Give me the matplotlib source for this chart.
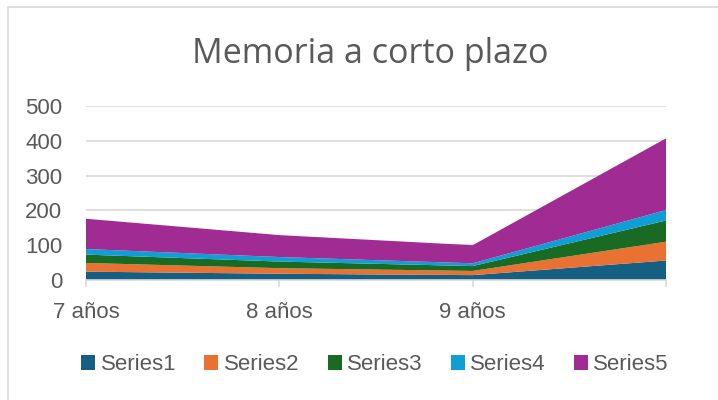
import matplotlib
matplotlib.use("Agg")
import matplotlib.pyplot as plt
from matplotlib.patches import Rectangle, Patch

# datos
categorias = ["7 años", "8 años", "9 años", ""]
series1 = [24, 18, 14, 56]
series2 = [25, 16, 12, 54]
series3 = [24, 19, 14, 61]
series4 = [16, 13, 8, 30]
series5 = [87, 63, 52, 206]
nombres = ["Series1", "Series2", "Series3", "Series4", "Series5"]
colores = ["#156082", "#E97132", "#196B24", "#0F9ED5", "#A02B93"]

W, H = 718, 400
fig = plt.figure(figsize=(W / 100, H / 100), dpi=100)

# marco del gráfico (sale por la derecha y por abajo)
fig.patches.append(Rectangle((8 / W, -0.1), 1.2, (H - 7) / H + 0.1,
                             transform=fig.transFigure, fill=False,
                             edgecolor="#D9D9D9", linewidth=1.2))

# zona de trazado: x 86..666 px, y 0 en 280 px, 500 en 106 px
ax = fig.add_axes([86 / W, (H - 280) / H, (666 - 86) / W, (280 - 106) / H])

x = range(len(categorias))
ax.stackplot(x, series1, series2, series3, series4, series5,
             colors=colores, labels=nombres, zorder=3, linewidth=0)

texto = "#595959"
ax.set_xlim(0, 3)
ax.set_ylim(0, 500)
ax.set_yticks([0, 100, 200, 300, 400, 500])
ax.set_xticks(list(x))
ax.set_xticklabels(categorias)
ax.grid(axis="y", color="#D9D9D9", linewidth=1.2, zorder=0)
for s in ["top", "right", "left"]:
    ax.spines[s].set_visible(False)
ax.spines["bottom"].set_color("#D9D9D9")
ax.spines["bottom"].set_linewidth(1.2)
ax.spines["bottom"].set_zorder(4)
ax.tick_params(axis="y", length=0, pad=17, labelsize=16, labelcolor=texto)
ax.tick_params(axis="x", length=5, color="#D9D9D9", width=1.2, pad=11,
               labelsize=16, labelcolor=texto)
for t in ax.get_xticklabels() + ax.get_yticklabels():
    t.set_family("Liberation Sans")

fig.text(370 / W, (H - 62.7) / H, "Memoria a corto plazo", ha="center",
         va="baseline", fontsize=24.5, color=texto, family="Open Sans")

handles = [Patch(facecolor=c, edgecolor="none") for c in colores]
fig.legend(handles, nombres, loc="center", bbox_to_anchor=(375 / W, (H - 365) / H),
           ncol=5, frameon=False, handlelength=0.63, handleheight=0.63,
           handletextpad=0.25, columnspacing=1.26,
           prop={"family": "Liberation Sans", "size": 16}, labelcolor=texto)

fig.savefig("out.png", dpi=100)
